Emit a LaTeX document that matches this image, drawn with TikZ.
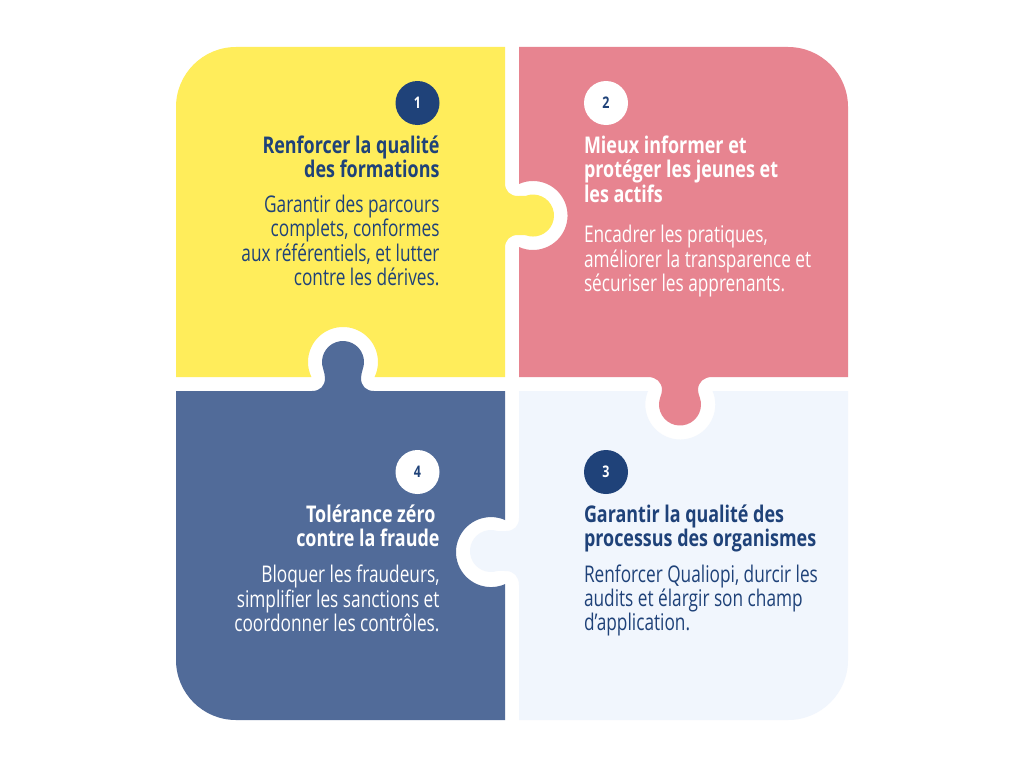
\documentclass[tikz,border=0pt]{standalone}
\usepackage{fontspec}
\setmainfont{Open Sans}[FakeStretch=0.75,BoldFeatures={FakeStretch=0.78}]
\usepackage{xcolor}
\usetikzlibrary{positioning}
\definecolor{piecey}{HTML}{FFED5B}
\definecolor{piecer}{HTML}{E78490}
\definecolor{pieceb}{HTML}{516B99}
\definecolor{piecel}{HTML}{F1F6FD}
\definecolor{navy}{HTML}{1F4279}

\begin{document}
\begin{tikzpicture}[x=1pt, y=-1pt, line width=0pt,
        badge/.style={circle, minimum size=44pt, inner sep=0pt, font=\fontsize{16}{18}\selectfont\bfseries},
        badgedark/.style={badge, fill=navy, text=white},
        badgelight/.style={badge, fill=white, text=navy},
        headtext/.style={inner sep=0pt, font=\fontsize{23}{24.3}\selectfont\bfseries},
        bodytext/.style={inner sep=0pt, font=\fontsize{23}{24.3}\selectfont}]
            \useasboundingbox (0,0) rectangle (1024,768);
            \fill[white] (0,0) rectangle (1024,768);

            % yellow piece
            \fill[piecey] (236,47) -- (505,47) -- (505,183)
                .. controls (505,191) and (510,196) .. (518,196)
                .. controls (521,196) and (523,196) .. (525.8,195.8)
                arc[start angle=-110, end angle=110, radius=21]
                .. controls (523,235) and (521,235) .. (518,235)
                .. controls (510,235) and (505,240) .. (505,248)
                -- (505,377) -- (374.6,377)
                arc[start angle=25.4, end angle=-205.4, radius=35]
                -- (176,377) -- (176,107)
                arc[start angle=180, end angle=270, radius=60] -- cycle;

            % pink piece
            \fill[piecer] (519,47) -- (788,47)
                arc[start angle=-90, end angle=0, radius=60]
                -- (848,377) -- (712,377)
                .. controls (704,377) and (698,382) .. (698,390)
                .. controls (698,393) and (699,395) .. (699.8,397.5)
                arc[start angle=-19.5, end angle=199.5, radius=21]
                .. controls (661,395) and (662,393) .. (662,390)
                .. controls (662,382) and (656,377) .. (648,377)
                -- (519,377) -- (519,247)
                arc[start angle=114, end angle=-114, radius=34.5] -- cycle;

            % blue piece
            \fill[pieceb] (176,391) -- (312,391)
                .. controls (320,391) and (325,386) .. (325,378)
                .. controls (325,375) and (324,372) .. (323.2,369)
                arc[start angle=160.5, end angle=379.5, radius=21]
                .. controls (362,372) and (361,375) .. (361,378)
                .. controls (361,386) and (366,391) .. (374,391)
                -- (505,391) -- (505,520)
                arc[start angle=-66.4, end angle=-293.6, radius=35]
                -- (505,720) -- (236,720)
                arc[start angle=90, end angle=180, radius=60] -- cycle;

            % light piece
            \fill[piecel] (519,391) -- (648,391)
                arc[start angle=202.7, end angle=-22.7, radius=35]
                -- (848,391) -- (848,660)
                arc[start angle=0, end angle=90, radius=60]
                -- (519,720) -- (519,585)
                .. controls (519,577) and (514,571) .. (506,571)
                .. controls (503,571) and (501,571) .. (498,570.8)
                arc[start angle=70.5, end angle=289.5, radius=21]
                .. controls (501,531) and (503,531) .. (506,531)
                .. controls (514,531) and (519,526) .. (519,518) -- cycle;

            \node [badgedark] (one) at (417.5,103) {1};
            \node [badgelight] (two) at (606,103) {2};
            \node [badgedark] (three) at (606,472) {3};
            \node [badgelight] (four) at (417.5,472) {4};

            \node [headtext, text=navy, align=right, below left=11pt and -22pt of one.south] (headone)
                {Renforcer la qualité\\des formations};
            \node [bodytext, text=navy, align=right, below left=17pt and 0pt of headone.south east] (bodyone)
                {Garantir des parcours\\complets, conformes\\aux référentiels, et lutter\\contre les dérives.};

            \node [headtext, text=white, align=left, below right=11pt and -22pt of two.south] (headtwo)
                {Mieux informer et\\protéger les jeunes et\\les actifs};
            \node [bodytext, text=white, align=left, below right=23pt and 0pt of headtwo.south west] (bodytwo)
                {Encadrer les pratiques,\\améliorer la transparence et\\sécuriser les apprenants.};

            \node [headtext, text=navy, align=left, below right=11pt and -22pt of three.south] (headthree)
                {Garantir la qualité des\\processus des organismes};
            \node [bodytext, text=navy, align=left, below right=12pt and 0pt of headthree.south west] (bodythree)
                {Renforcer Qualiopi, durcir les\\audits et élargir son champ\\d’application.};

            \node [headtext, text=white, align=right, below left=11pt and -22pt of four.south] (headfour)
                {Tolérance zéro\hspace*{4pt}\\contre la fraude};
            \node [bodytext, text=white, align=right, below left=18pt and 0pt of headfour.south east] (bodyfour)
                {Bloquer les fraudeurs,\\simplifier les sanctions et\\coordonner les contrôles.};

        \end{tikzpicture}
\end{document}
